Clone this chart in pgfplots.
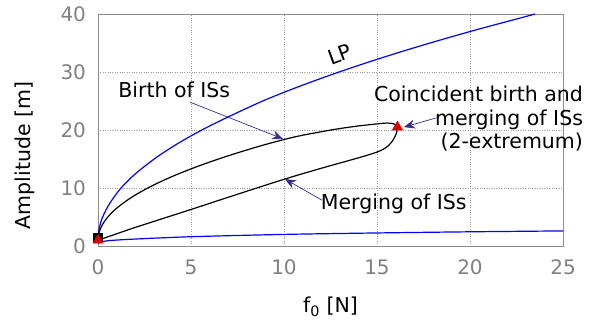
\documentclass[border=0pt]{standalone}
\usepackage{pgfplots}
\pgfplotsset{compat=1.18}
\usepackage{fontspec}
\setmainfont{DejaVu Sans}
\usetikzlibrary{arrows.meta}
\definecolor{annot}{RGB}{55,45,145}
\definecolor{lpblue}{RGB}{0,0,255}
\definecolor{tri}{RGB}{220,0,0}
\begin{document}
\fontsize{20.5}{24}\selectfont
\begin{tikzpicture}
\begin{axis}[
  scale only axis, width=465pt, height=232pt,
  xmin=0, xmax=25, ymin=0, ymax=40,
  xtick={0,5,...,25}, ytick={0,10,...,40},
  grid=major, major grid style={gray!80, dotted, line width=0.6pt},
  axis line style={gray!90, line width=0.7pt},
  major tick length=0pt,
  tick label style={gray, font=\fontsize{20}{24}\selectfont},
  /pgf/number format/assume math mode=true,
  xticklabel style={yshift=-7pt},
  yticklabel style={xshift=-5pt},
  xlabel={f\textsubscript{0} [N]}, ylabel={Amplitude [m]},
  xlabel style={at={(axis description cs:0.5,-0.263)}, anchor=center},
  ylabel style={at={(axis description cs:-0.157,0.39)}, anchor=center, rotate=0},
  label style={font=\fontsize{20.5}{24}\selectfont},
  clip=false,
]
% LP upper branch
\addplot[lpblue, line width=1.2pt, smooth] coordinates {
(0,1) (0.01,1.8) (0.04,2.6) (0.09,3.4) (0.16,4.2) (0.25,5.0) (0.49,6.6) (0.81,8.2)
(1.21,9.9) (1.69,11.5) (2.25,13.1) (3.24,15.5) (4.41,17.9) (5.76,20.3) (7.29,22.7)
(9,25.2) (10.89,27.6) (12.96,30.0) (15.21,32.4) (17.64,34.8) (20.25,37.2) (23.04,39.6) (23.5,40)};
% LP lower branch
\addplot[lpblue, line width=1.2pt, smooth] coordinates {
(0,0.5) (0.5,0.9) (2,1.2) (5,1.6) (10,2.0) (15,2.25) (20,2.45) (25,2.6)};
% birth of ISs
\addplot[black, line width=1.2pt, smooth] coordinates {
(0,1) (0.01,1.55) (0.04,2.1) (0.09,2.65) (0.16,3.2) (0.25,3.75) (0.36,4.3) (0.49,4.85)
(0.64,5.4) (0.81,5.95) (1,6.5) (1.44,7.6) (1.96,8.7) (2.56,9.8) (3.24,10.9) (4,12)
(4.84,13.1) (5.76,14.2) (6.76,15.3) (7.84,16.4) (9,17.5) (10.24,18.55) (11,19.1)
(12,19.7) (13,20.25) (14,20.7) (15,21.05) (15.5,21.2) (15.85,21.1) (16.05,20.8) (16.1,20.5)};
% merging of ISs
\addplot[black, line width=1.2pt, smooth] coordinates {
(0,1) (1,2.1) (2,3.2) (5,6.3) (7,8.4) (10,11.5) (12,13.4) (14,15.2) (15,16.2)
(15.5,17.0) (15.85,18.2) (16.05,19.5) (16.1,20.5)};
% markers
\addplot[only marks, mark=square*, mark size=4.5pt, black] coordinates {(0,1.5)};
\addplot[only marks, mark=triangle*, mark size=6pt, tri] coordinates {(0,1.0) (16.1,20.5)};
% annotations
\node[rotate=20] at (axis cs:13.0,33.0) {LP};
\node at (axis cs:4.1,26.9) {Birth of ISs};
\node at (axis cs:15.9,7.2) {Merging of ISs};
\node[anchor=east, align=right, font=\fontsize{20.5}{23.5}\selectfont] at (axis cs:26.45,21.9)
  {Coincident birth and\\merging of ISs\\(2-extremum)};
\draw[annot, line width=0.7pt, -{Stealth[length=11pt, width=9pt]}] (axis cs:4.95,24.8) -- (axis cs:9.95,18.45);
\draw[annot, line width=0.7pt, -{Stealth[length=11pt, width=9pt]}] (axis cs:12.04,7.9) -- (axis cs:10.05,11.55);
\draw[annot, line width=0.7pt, -{Stealth[length=11pt, width=9pt]}] (axis cs:18.2,22.1) -- (axis cs:16.45,20.5);
\coordinate (sw) at (rel axis cs:0,0);
\end{axis}
\pgfresetboundingbox
\path (sw) ++(-98pt,-79pt) rectangle ++(604pt,325pt);
\end{tikzpicture}
\end{document}
